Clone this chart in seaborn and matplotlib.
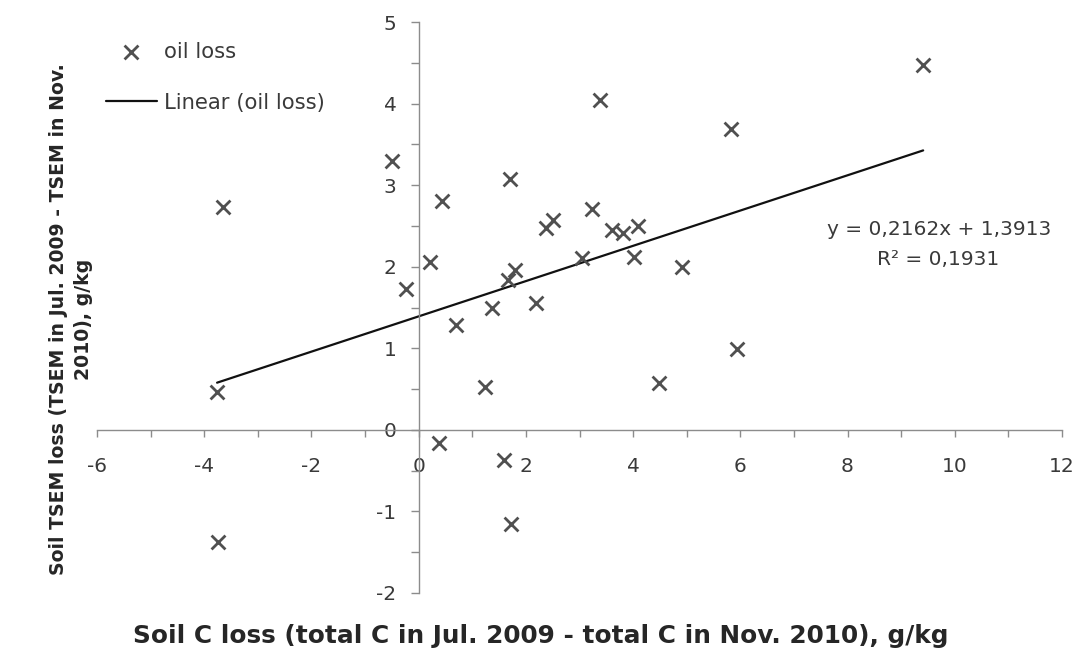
import numpy as np
import pandas as pd
import matplotlib
matplotlib.use("Agg")
import matplotlib.pyplot as plt
import seaborn as sns

# Soil C loss (x) and soil TSEM loss (y), g/kg
c_loss = [-0.50, -3.65, 0.43, 0.21, -0.24, 1.70, 3.38, 5.82, 9.41, 2.37,
          2.50, 3.24, 3.61, 3.81, 4.09, 4.02, 3.05, 4.92, 1.79, 1.67,
          1.36, 2.19, 0.70, 1.24, 5.94, 4.48, -3.76, 0.38, 1.59, 1.72,
          -3.75]
tsem_loss = [3.30, 2.73, 2.81, 2.06, 1.73, 3.08, 4.04, 3.69, 4.47, 2.47,
             2.57, 2.71, 2.45, 2.41, 2.50, 2.12, 2.11, 2.00, 1.96, 1.84,
             1.50, 1.55, 1.29, 0.53, 0.99, 0.57, 0.47, -0.16, -0.37, -1.15,
             -1.38]

# Linear trend (stated on the chart)
slope = 0.2162
intercept = 1.3913
r_squared = 0.1931

x_ticks = list(range(-6, 13, 2))
y_ticks = list(range(-2, 6, 1))

sns.set_theme(style="white")
plt.rcParams["font.family"] = ["DejaVu Sans"]
plt.rcParams["axes.unicode_minus"] = False

text_color = "#3a3a3a"
axis_color = "#8c8c8c"
small = 14.5

df = pd.DataFrame({"x": c_loss, "y": tsem_loss})
xs = np.array([min(c_loss), max(c_loss)])
trend = pd.DataFrame({"x": xs, "y": slope * xs + intercept})

fig = plt.figure(figsize=(10.84, 6.54), dpi=100)
ax = fig.add_axes([97 / 1084, 1 - 593 / 654, (1062 - 97) / 1084, (593 - 22) / 654])

sns.scatterplot(data=df, x="x", y="y", marker="x", s=100, color="#505050",
                linewidth=2.0, label="oil loss", ax=ax, zorder=3)
sns.lineplot(data=trend, x="x", y="y", color="#111111", linewidth=1.6,
             label="Linear (oil loss)", ax=ax, zorder=2)

ax.set_xlim(-6, 12)
ax.set_ylim(-2, 5)

# Axes cross at the origin
for side in ("top", "right"):
    ax.spines[side].set_visible(False)
ax.spines["left"].set_position(("data", 0))
ax.spines["bottom"].set_position(("data", 0))
for side in ("left", "bottom"):
    ax.spines[side].set_color(axis_color)
    ax.spines[side].set_linewidth(1.0)

ax.set_xticks(x_ticks)
ax.set_xticklabels([str(v) for v in x_ticks])
ax.set_xticks(list(range(-5, 12, 2)), minor=True)
ax.set_yticks(y_ticks)
ax.set_yticklabels([str(v) for v in y_ticks])
ax.set_yticks([v + 0.5 for v in range(-2, 5)], minor=True)

ax.tick_params(axis="x", which="both", direction="out", length=5, width=1,
               color=axis_color, bottom=True)
ax.tick_params(axis="x", which="major", pad=14.5, labelsize=small, labelcolor=text_color)
ax.tick_params(axis="y", which="both", direction="out", length=6, width=1,
               color=axis_color, left=True)
ax.tick_params(axis="y", which="major", pad=10, labelsize=small, labelcolor=text_color)

ax.set_xlabel("Soil C loss (total C in Jul. 2009 - total C in Nov. 2010), g/kg",
              fontsize=17.8, fontweight="bold", color="#262626", va="center")
ax.xaxis.set_label_coords(0.46, -0.075)
ax.set_ylabel("Soil TSEM loss (TSEM in Jul. 2009 - TSEM in Nov.\n2010), g/kg",
              fontsize=13.6, fontweight="bold", color="#262626", va="center",
              ha="center", linespacing=1.45)
ax.yaxis.set_label_coords(-0.027, 0.479)

ax.text(9.71, 2.46, f"y = {slope:.4f}x + {intercept:.4f}".replace(".", ","),
        ha="center", va="center", fontsize=small, color=text_color)
ax.text(9.69, 2.09, f"R² = {r_squared:.4f}".replace(".", ","),
        ha="center", va="center", fontsize=small, color=text_color)

ax.legend(loc="upper left", bbox_to_anchor=(106 / 1084, 1 - 42 / 654),
          bbox_transform=fig.transFigure, frameon=False, fontsize=15.2,
          handlelength=2.4, handletextpad=0.35, labelspacing=1.45,
          borderpad=0, borderaxespad=0, labelcolor=text_color)

fig.savefig("out.png", dpi=100)
